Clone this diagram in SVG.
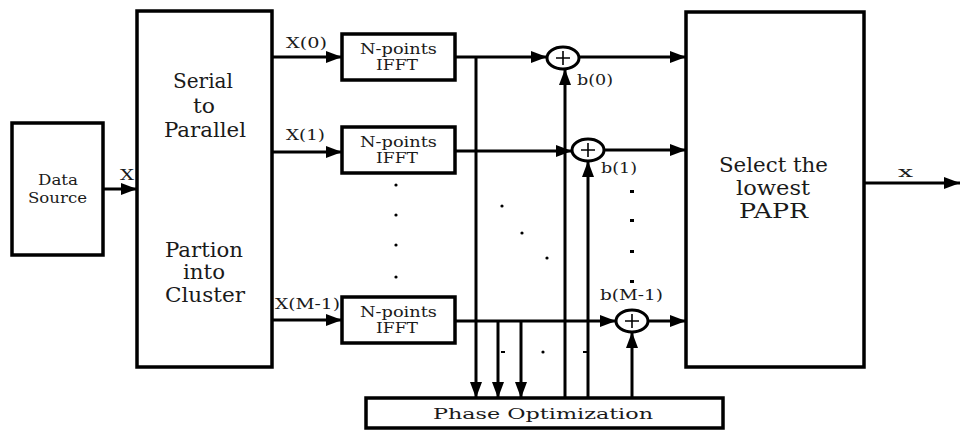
<svg xmlns="http://www.w3.org/2000/svg" width="961" height="433" viewBox="0 0 961 433">
<style>
.box{fill:#fff;stroke:#000;stroke-width:3.5}
.ln{fill:none;stroke:#000;stroke-width:3}
.pl{fill:none;stroke:#000;stroke-width:1.6}
text{font-family:'DejaVu Serif','Liberation Serif',serif;fill:#1a1a1a}
.big{font-size:20px}
.sm{font-size:14px}
.md{font-size:15px}
.dot{fill:#000}
</style>
<defs>
<marker id="ah" viewBox="0 0 16 12" refX="16" refY="6" markerWidth="16" markerHeight="12" markerUnits="userSpaceOnUse" orient="auto">
<path d="M0,0 L16,6 L0,12 z" fill="#000"/>
</marker>
</defs>
<rect width="961" height="433" fill="#fff"/>

<g id="data-source">
<rect class="box" x="12" y="123" width="91" height="132"/>
<text class="sm" x="38" y="185" textLength="40" lengthAdjust="spacingAndGlyphs">Data</text>
<text class="sm" x="28" y="203" textLength="59" lengthAdjust="spacingAndGlyphs">Source</text>
</g>

<g id="serial-parallel">
<rect class="box" x="137" y="11" width="135" height="356"/>
<text class="big" x="173" y="88" textLength="60" lengthAdjust="spacingAndGlyphs">Serial</text>
<text class="big" x="193" y="113" textLength="22" lengthAdjust="spacingAndGlyphs">to</text>
<text class="big" x="164" y="137" textLength="82" lengthAdjust="spacingAndGlyphs">Parallel</text>
<text class="big" x="165" y="257" textLength="78" lengthAdjust="spacingAndGlyphs">Partion</text>
<text class="big" x="183" y="279" textLength="42" lengthAdjust="spacingAndGlyphs">into</text>
<text class="big" x="165" y="302" textLength="80" lengthAdjust="spacingAndGlyphs">Cluster</text>
</g>

<g id="ifft0">
<rect class="box" x="342" y="34" width="113" height="46"/>
<text class="sm" x="360" y="54" textLength="77" lengthAdjust="spacingAndGlyphs">N-points</text>
<text class="sm" x="376" y="70" textLength="42" lengthAdjust="spacingAndGlyphs">IFFT</text>
</g>
<g id="ifft1">
<rect class="box" x="342" y="127" width="113" height="46"/>
<text class="sm" x="360" y="147" textLength="77" lengthAdjust="spacingAndGlyphs">N-points</text>
<text class="sm" x="376" y="163" textLength="42" lengthAdjust="spacingAndGlyphs">IFFT</text>
</g>
<g id="ifftM">
<rect class="box" x="342" y="297" width="113" height="46"/>
<text class="sm" x="360" y="317" textLength="77" lengthAdjust="spacingAndGlyphs">N-points</text>
<text class="sm" x="376" y="333" textLength="42" lengthAdjust="spacingAndGlyphs">IFFT</text>
</g>

<g id="adder0">
<ellipse class="ln" cx="563" cy="58" rx="16" ry="11" fill="#fff"/>
<path class="pl" d="M556,58 H570 M563,51 V65"/>
</g>
<g id="adder1">
<ellipse class="ln" cx="588" cy="150" rx="16" ry="11" fill="#fff"/>
<path class="pl" d="M581,150 H595 M588,143 V157"/>
</g>
<g id="adderM">
<ellipse class="ln" cx="632" cy="321" rx="16" ry="11" fill="#fff"/>
<path class="pl" d="M625,321 H639 M632,314 V328"/>
</g>

<g id="select">
<rect class="box" x="686" y="12" width="178" height="355"/>
<text class="big" x="719" y="172" textLength="109" lengthAdjust="spacingAndGlyphs">Select the</text>
<text class="big" x="736" y="195" textLength="74" lengthAdjust="spacingAndGlyphs">lowest</text>
<text class="big" x="739" y="218" textLength="69" lengthAdjust="spacingAndGlyphs">PAPR</text>
</g>

<g id="phase-opt">
<rect class="box" x="366" y="398" width="357" height="30"/>
<text class="md" x="433" y="419" textLength="220" lengthAdjust="spacingAndGlyphs">Phase Optimization</text>
</g>

<g id="connectors">
<path class="ln" d="M103,189 H137" marker-end="url(#ah)"/>
<path class="ln" d="M272,57 H342" marker-end="url(#ah)"/>
<path class="ln" d="M272,152 H342" marker-end="url(#ah)"/>
<path class="ln" d="M272,320 H342" marker-end="url(#ah)"/>
<path class="ln" d="M455,57 H547" marker-end="url(#ah)"/>
<path class="ln" d="M455,151 H572" marker-end="url(#ah)"/>
<path class="ln" d="M455,321 H616" marker-end="url(#ah)"/>
<path class="ln" d="M579,57 H686" marker-end="url(#ah)"/>
<path class="ln" d="M604,150 H686" marker-end="url(#ah)"/>
<path class="ln" d="M648,321 H686" marker-end="url(#ah)"/>
<path class="ln" d="M864,183 H960" marker-end="url(#ah)"/>
<path class="ln" d="M476,57 V398" marker-end="url(#ah)"/>
<path class="ln" d="M498,321 V398" marker-end="url(#ah)"/>
<path class="ln" d="M521,321 V398" marker-end="url(#ah)"/>
<path class="ln" d="M565,398 V69" marker-end="url(#ah)"/>
<path class="ln" d="M588,398 V161" marker-end="url(#ah)"/>
<path class="ln" d="M632,398 V332" marker-end="url(#ah)"/>
</g>

<g id="labels">
<text class="md" x="120" y="180" textLength="14" lengthAdjust="spacingAndGlyphs">X</text>
<text class="sm" x="286" y="48" textLength="41" lengthAdjust="spacingAndGlyphs">X(0)</text>
<text class="sm" x="286" y="140" textLength="39" lengthAdjust="spacingAndGlyphs">X(1)</text>
<text class="sm" x="275" y="309" textLength="65" lengthAdjust="spacingAndGlyphs">X(M-1)</text>
<text class="sm" x="577" y="85" textLength="36" lengthAdjust="spacingAndGlyphs">b(0)</text>
<text class="sm" x="601" y="173" textLength="36" lengthAdjust="spacingAndGlyphs">b(1)</text>
<text class="sm" x="600" y="300" textLength="63" lengthAdjust="spacingAndGlyphs">b(M-1)</text>
<text class="md" x="898" y="177" textLength="15" lengthAdjust="spacingAndGlyphs">x</text>
</g>

<g id="ellipsis-dots">
<circle class="dot" cx="396" cy="185" r="1.6"/>
<circle class="dot" cx="396" cy="215" r="1.6"/>
<circle class="dot" cx="396" cy="245" r="1.6"/>
<circle class="dot" cx="396" cy="277" r="1.6"/>
<circle class="dot" cx="502" cy="206" r="1.6"/>
<circle class="dot" cx="522" cy="233" r="1.6"/>
<circle class="dot" cx="547" cy="258" r="1.6"/>
<rect class="dot" x="630" y="190" width="4" height="3"/>
<rect class="dot" x="630" y="219" width="4" height="3"/>
<rect class="dot" x="630" y="250" width="4" height="3"/>
<rect class="dot" x="630" y="280" width="4" height="3"/>
<rect class="dot" x="501" y="351" width="4" height="2"/>
<circle class="dot" cx="543" cy="352" r="1.6"/>
<rect class="dot" x="583" y="351" width="4" height="2"/>
</g>
</svg>
